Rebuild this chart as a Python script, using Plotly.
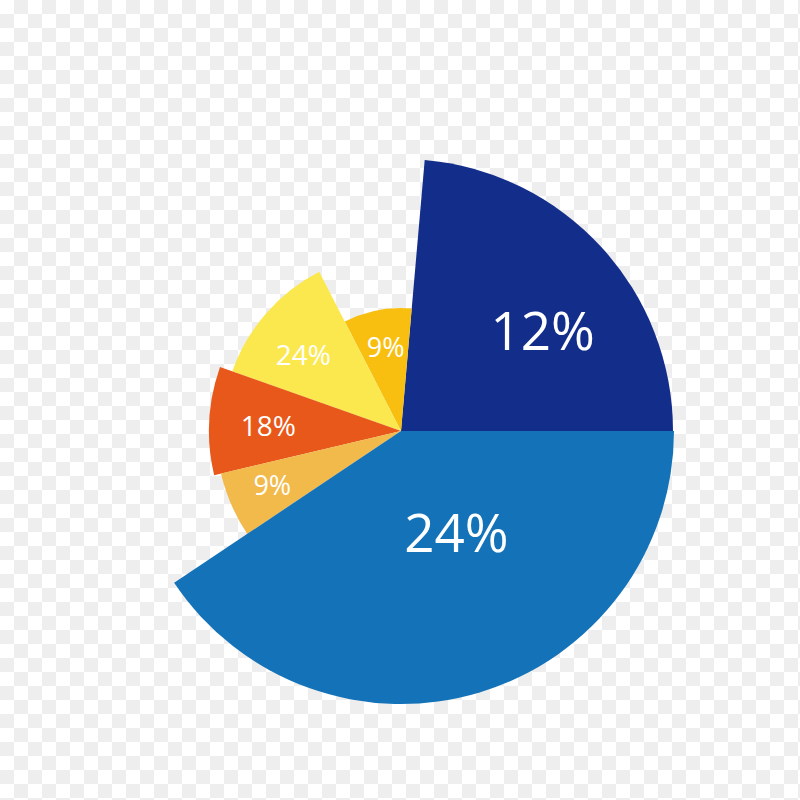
import plotly.graph_objects as go

# ---- data ----
slice_names = ["dark blue", "amber", "yellow", "orange red", "light orange", "blue"]
slice_labels = ["12%", "9%", "24%", "18%", "9%", "24%"]
slice_start_deg = [0.0, 85.0, 117.2, 160.5, 193.3, 213.8]
slice_end_deg = [85.0, 117.2, 160.5, 193.3, 213.8, 360.0]
slice_radius = [272, 123, 179, 192, 185, 273]

# ---- styles ----
colors = ["#132D8A", "#F8BF10", "#FBE84F", "#E7581A", "#F2B94B", "#1372B8"]
label_r = [170, 82.4, 121.7, 132.7, 141, 121.4]
label_theta = [33.6, 100.7, 143.4, 179.1, 204.1, 297.2]
label_size = [53, 27, 28, 28, 27, 53]

theta_mid = [(s + e) / 2 for s, e in zip(slice_start_deg, slice_end_deg)]
widths = [e - s for s, e in zip(slice_start_deg, slice_end_deg)]

fig = go.Figure()

# checkerboard "transparency" background drawn as square markers
CELL = 14
n = 800 // CELL + 1
cx_list, cy_list = [], []
for j in range(n):
    for i in range(n):
        if (i + j) % 2 == 1:
            cx_list.append(CELL / 2 + CELL * i)
            cy_list.append(CELL / 2 + CELL * j)
fig.add_trace(go.Scatter(
    x=cx_list, y=cy_list, mode="markers",
    marker=dict(symbol="square", size=CELL, color="#eeeeee", line=dict(width=0)),
    hoverinfo="skip", showlegend=False,
))

fig.add_trace(go.Barpolar(
    r=slice_radius,
    theta=theta_mid,
    width=widths,
    marker=dict(color=colors, line=dict(width=0)),
    opacity=1,
    hovertext=slice_names,
    showlegend=False,
))
for i in range(len(slice_labels)):
    fig.add_trace(go.Scatterpolar(
        r=[label_r[i]],
        theta=[label_theta[i]],
        mode="text",
        text=[slice_labels[i]],
        textfont=dict(family="Open Sans", size=label_size[i], color="white"),
        showlegend=False,
        hoverinfo="skip",
    ))

R = 300  # px radius of polar area; radial range 0..300
cx, cy = 401, 431
fig.update_layout(
    width=800, height=800,
    margin=dict(l=0, r=0, t=0, b=0),
    paper_bgcolor="white",
    plot_bgcolor="white",
    xaxis=dict(visible=False, range=[0, 800], domain=[0, 1], fixedrange=True),
    yaxis=dict(visible=False, range=[800, 0], domain=[0, 1], fixedrange=True),
    polar=dict(
        domain=dict(x=[(cx - R) / 800, (cx + R) / 800],
                    y=[(800 - cy - R) / 800, (800 - cy + R) / 800]),
        bgcolor="rgba(0,0,0,0)",
        bargap=0,
        radialaxis=dict(visible=False, range=[0, R]),
        angularaxis=dict(visible=False, rotation=0, direction="counterclockwise"),
    ),
)

fig.write_html("out.html", config={"displayModeBar": False},
               post_script="document.body.style.margin='0';")
